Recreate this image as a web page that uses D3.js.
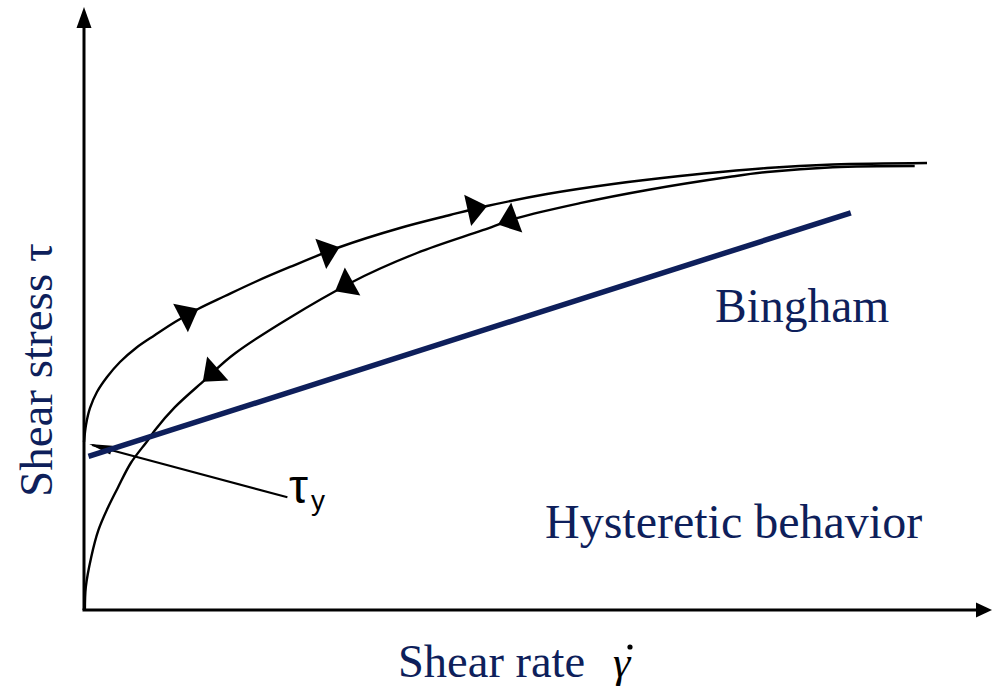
<!DOCTYPE html>
<html>
<head>
<meta charset="utf-8">
<script src="https://cdn.jsdelivr.net/npm/d3@7"></script>
<style>
  html, body { margin: 0; padding: 0; background: #fff; }
  svg { display: block; }
</style>
</head>
<body>
<svg id="chart" width="992" height="688"></svg>
<script>
// Flow curves (arbitrary units: shear rate 0–100, shear stress 0–100)
const upRateX   = [0, 0.22, 0.67, 1.44, 2.56, 4.0, 5.78, 7.89, 10.11, 12.67, 15.67, 19.0, 22.89, 28.44, 35.11, 40.67, 44.78, 51.44, 58.78, 66.22, 75.89, 83.22, 93.67];
const upStressY = [28.0, 30.83, 33.67, 36.33, 38.83, 41.33, 43.67, 45.83, 48.0, 50.17, 52.33, 54.67, 57.17, 60.5, 63.67, 65.83, 67.33, 69.33, 71.0, 72.33, 73.67, 74.25, 74.5];

const downRateX   = [0.1, 0.2, 0.8, 1.6, 2.7, 3.8, 5.2, 7.1, 7.9, 10.1, 13.4, 16.8, 29.6, 37.0, 44.3, 48.1, 55.1, 62.6, 71.8, 75.9, 83.2, 92.3];
const downStressY = [0, 3.8, 8.8, 13.3, 17.2, 20.5, 24.5, 28.3, 30.0, 33.8, 38.3, 42.8, 54.5, 59.5, 63.3, 65.3, 67.8, 70.0, 72.2, 73.0, 73.8, 74.0];

// Bingham model line
const binghamX = [0.5, 85.2];
const binghamY = [25.6, 66.2];

// Direction arrows along each branch (shear rate positions)
const arrowsUp   = [12.7, 28.4, 44.8];
const arrowsDown = [13.2, 27.9, 46.0];

// Yield stress pointer (from axis to label)
const yieldX = [0.9, 22.6];
const yieldY = [27.5, 18.8];

const labels = {
  x: "Shear rate",
  xSym: "\u03B3",
  y: "Shear stress \u03C4",
  bingham: "Bingham",
  hyst: "Hysteretic behavior",
  tau: "\u03C4",
  tauSub: "y"
};

const navy = "#0e1f5b";
const svg = d3.select("#chart");

const x = d3.scaleLinear().domain([0, 100]).range([84, 984]);
const y = d3.scaleLinear().domain([0, 100]).range([610, 10]);

// Axes with arrowheads
const axisG = svg.append("g");
axisG.append("line")
  .attr("x1", x(0)).attr("y1", y(0)).attr("x2", x(0)).attr("y2", 26)
  .attr("stroke", "#000").attr("stroke-width", 3);
axisG.append("path")
  .attr("d", `M${x(0)},7 L${x(0) - 7.5},28 L${x(0) + 7.5},28 Z`)
  .attr("fill", "#000");
axisG.append("line")
  .attr("x1", x(0) - 1.5).attr("y1", y(0)).attr("x2", 977).attr("y2", y(0))
  .attr("stroke", "#000").attr("stroke-width", 3);
axisG.append("path")
  .attr("d", `M992,${y(0)} L976,${y(0) - 7.5} L976,${y(0) + 7.5} Z`)
  .attr("fill", "#000");

// Curves
const line = d3.line().x(d => x(d[0])).y(d => y(d[1])).curve(d3.curveCatmullRom.alpha(0.5));
const upData = upRateX.map((v, i) => [v, upStressY[i]]);
const downData = downRateX.map((v, i) => [v, downStressY[i]]);

const upPath = svg.append("path").datum(upData).attr("d", line)
  .attr("fill", "none").attr("stroke", "#000").attr("stroke-width", 2.4);
const downPath = svg.append("path").datum(downData).attr("d", line)
  .attr("fill", "none").attr("stroke", "#000").attr("stroke-width", 2.4);

// Place a triangular arrowhead on a path at a given shear rate
function arrowAt(pathNode, rate, reverse) {
  const total = pathNode.getTotalLength();
  const px = x(rate);
  let lo = 0, hi = total;
  for (let k = 0; k < 40; k++) {
    const mid = (lo + hi) / 2;
    if (pathNode.getPointAtLength(mid).x < px) lo = mid; else hi = mid;
  }
  const L = (lo + hi) / 2;
  const p = pathNode.getPointAtLength(L);
  const a = pathNode.getPointAtLength(Math.max(0, L - 3));
  const b = pathNode.getPointAtLength(Math.min(total, L + 3));
  let dx = b.x - a.x, dy = b.y - a.y;
  const len = Math.hypot(dx, dy);
  dx /= len; dy /= len;
  if (reverse) { dx = -dx; dy = -dy; }
  const nx = -dy, ny = dx;
  const back = 20, half = 16;
  const bx = p.x - dx * back, by = p.y - dy * back;
  return `M${p.x},${p.y} L${bx + nx * half},${by + ny * half} L${bx - nx * half},${by - ny * half} Z`;
}

svg.append("g").selectAll("path").data(arrowsUp).join("path")
  .attr("d", d => arrowAt(upPath.node(), d, false))
  .attr("fill", "#000");
svg.append("g").selectAll("path").data(arrowsDown).join("path")
  .attr("d", d => arrowAt(downPath.node(), d, true))
  .attr("fill", "#000");

// Yield stress pointer
svg.append("line")
  .attr("x1", x(yieldX[0])).attr("y1", y(yieldY[0]))
  .attr("x2", x(yieldX[1])).attr("y2", y(yieldY[1]))
  .attr("stroke", "#000").attr("stroke-width", 2.2);
(function () {
  const x0 = x(yieldX[0]), y0 = y(yieldY[0]);
  let dx = x(yieldX[1]) - x0, dy = y(yieldY[1]) - y0;
  const len = Math.hypot(dx, dy); dx /= len; dy /= len;
  const nx = -dy, ny = dx, back = 20, half = 4.5;
  const bx = x0 + dx * back, by = y0 + dy * back;
  svg.append("path")
    .attr("d", `M${x0 - 3},${y0 - 1} L${bx + nx * half},${by + ny * half} L${bx - nx * half},${by - ny * half} Z`)
    .attr("fill", "#000");
})();

// Bingham line
svg.append("line")
  .attr("x1", x(binghamX[0])).attr("y1", y(binghamY[0]))
  .attr("x2", x(binghamX[1])).attr("y2", y(binghamY[1]))
  .attr("stroke", navy).attr("stroke-width", 5.5);

// Text
const serif = "'Liberation Serif', 'Times New Roman', serif";
svg.append("text").attr("x", 715).attr("y", 322)
  .attr("font-family", serif).attr("font-size", 47.5).attr("fill", navy)
  .text(labels.bingham);
svg.append("text").attr("x", 545).attr("y", 538)
  .attr("font-family", serif).attr("font-size", 48).attr("fill", navy)
  .text(labels.hyst);

svg.append("text").attr("x", 398).attr("y", 677)
  .attr("font-family", serif).attr("font-size", 46.5).attr("fill", navy)
  .text(labels.x);
// shear-rate symbol: italic gamma with an overdot
svg.append("text").attr("x", 613).attr("y", 677)
  .attr("font-family", serif).attr("font-size", 44).attr("font-style", "italic")
  .attr("fill", "#000").text(labels.xSym);
svg.append("circle").attr("cx", 630).attr("cy", 647).attr("r", 2.6).attr("fill", "#000");

svg.append("text")
  .attr("transform", "translate(52,497) rotate(-90)")
  .attr("font-family", serif).attr("font-size", 47).attr("fill", navy)
  .text(labels.y);

const tl = svg.append("text").attr("x", 289).attr("y", 503)
  .attr("font-family", "'Liberation Sans', Arial, sans-serif").attr("fill", "#000");
tl.append("tspan").attr("font-size", 48).text(labels.tau);
tl.append("tspan").attr("font-size", 28).attr("dx", 3).attr("dy", 7).text(labels.tauSub);
</script>
</body>
</html>
